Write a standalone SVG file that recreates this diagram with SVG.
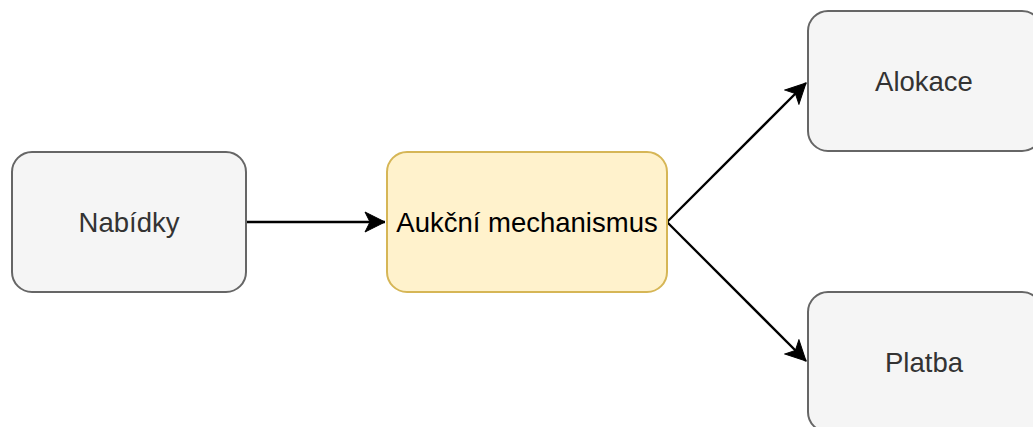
<svg xmlns="http://www.w3.org/2000/svg" width="1033" height="427" viewBox="0 0 1033 427">
  <defs>
    <style>
      .box { fill: #f5f5f5; stroke: #666666; stroke-width: 2; }
      .core { fill: #fff2cc; stroke: #d6b656; stroke-width: 2; }
      .label { font-family: "Liberation Sans", Arial, sans-serif; font-size: 27.5px; text-anchor: middle; dominant-baseline: central; fill: #333333; }
      .label.dark { fill: #000000; }
      .edge { fill: none; stroke: #000000; stroke-width: 2.3; }
    </style>
    <marker id="arrow" viewBox="-21 -11 23 22" refX="0" refY="0" markerWidth="23" markerHeight="22" markerUnits="userSpaceOnUse" orient="auto">
      <path d="M0,0 L-20,-10 L-15,0 L-20,10 Z" fill="#000000" stroke="#000000" stroke-width="1" stroke-linejoin="miter"/>
    </marker>
  </defs>

  <rect width="1033" height="427" fill="#ffffff"/>

  <g id="connectors">
    <line class="edge" x1="247" y1="222" x2="385" y2="222" marker-end="url(#arrow)"/>
    <line class="edge" x1="667" y1="222" x2="806" y2="83" marker-end="url(#arrow)"/>
    <line class="edge" x1="667" y1="222" x2="806" y2="361" marker-end="url(#arrow)"/>
  </g>

  <g id="nabidky">
    <rect class="box" x="12" y="152" width="234" height="140" rx="20" ry="20"/>
    <text class="label" x="129" y="222">Nabídky</text>
  </g>

  <g id="aukcni-mechanismus">
    <rect class="core" x="387" y="152" width="280" height="140" rx="20" ry="20"/>
    <text class="label dark" x="527" y="222">Aukční mechanismus</text>
  </g>

  <g id="alokace">
    <rect class="box" x="808" y="11" width="234" height="140" rx="20" ry="20"/>
    <text class="label" x="924" y="81">Alokace</text>
  </g>

  <g id="platba">
    <rect class="box" x="808" y="292" width="234" height="140" rx="20" ry="20"/>
    <text class="label" x="924" y="362">Platba</text>
  </g>
</svg>
